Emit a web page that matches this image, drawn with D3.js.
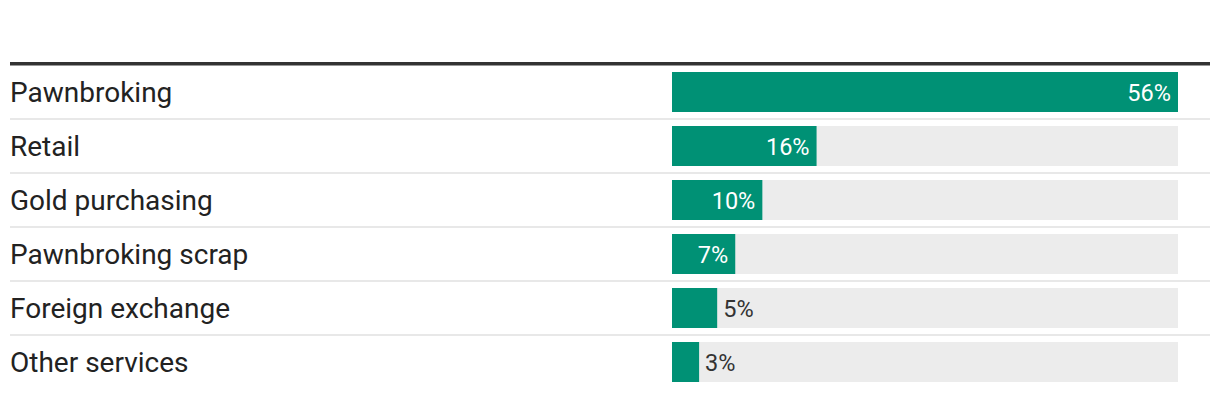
<!DOCTYPE html>
<html>
<head>
<meta charset="utf-8">
<script src="https://cdn.jsdelivr.net/npm/d3@7"></script>
<style>
  html, body { margin: 0; padding: 0; background: #fff; }
  svg { display: block; font-family: Roboto, "Noto Sans", sans-serif; }
</style>
</head>
<body>
<svg id="chart" width="1220" height="398"></svg>
<script>
const categories = ["Pawnbroking", "Retail", "Gold purchasing", "Pawnbroking scrap", "Foreign exchange", "Other services"];
const values = [56, 16, 10, 7, 5, 3];
const valueLabels = ["56%", "16%", "10%", "7%", "5%", "3%"];

const svg = d3.select("#chart");
const leftX = 10, rightX = 1210;
const barX0 = 672, barX1 = 1178;
const rowsTop = 65, rowStep = 54, barH = 40;

const x = d3.scaleLinear().domain([0, d3.max(values)]).range([barX0, barX1]);
const y = d3.scaleBand().domain(categories)
  .range([rowsTop, rowsTop + rowStep * categories.length])
  .paddingInner((rowStep - barH) / rowStep)
  .paddingOuter((rowStep - barH) / 2 / rowStep);

const green = "#009175";

// top rule
svg.append("rect").attr("x", leftX).attr("y", 62).attr("width", rightX - leftX).attr("height", 3.5).attr("fill", "#333");

// separators
categories.slice(1).forEach(c => {
  svg.append("rect").attr("x", leftX).attr("y", y(c) - 8).attr("width", rightX - leftX).attr("height", 2).attr("fill", "#e8e8e8");
});

const rows = svg.selectAll("g.row").data(categories).join("g").attr("class", "row");

rows.append("rect")
  .attr("x", x(0)).attr("y", d => y(d))
  .attr("width", x(d3.max(values)) - x(0)).attr("height", y.bandwidth())
  .attr("fill", "#ececec");

rows.append("rect")
  .attr("x", x(0)).attr("y", d => y(d))
  .attr("width", (d, i) => x(values[i]) - x(0)).attr("height", y.bandwidth())
  .attr("fill", green);

rows.append("text")
  .attr("x", leftX).attr("y", d => y(d) + y.bandwidth() / 2 + 9.5)
  .attr("font-size", 28).attr("fill", "#222")
  .text(d => d);

rows.each(function(d, i) {
  const g = d3.select(this);
  const w = x(values[i]) - x(0);
  const t = g.append("text")
    .attr("y", y(d) + y.bandwidth() / 2 + 8.5)
    .attr("font-size", 23.5)
    .text(valueLabels[i]);
  const tw = t.node().getComputedTextLength();
  if (tw + 16 < w) {
    t.attr("x", x(values[i]) - 7).attr("text-anchor", "end").attr("fill", "#fff");
  } else {
    t.attr("x", x(values[i]) + 6).attr("text-anchor", "start").attr("fill", "#333");
  }
});
</script>
</body>
</html>
